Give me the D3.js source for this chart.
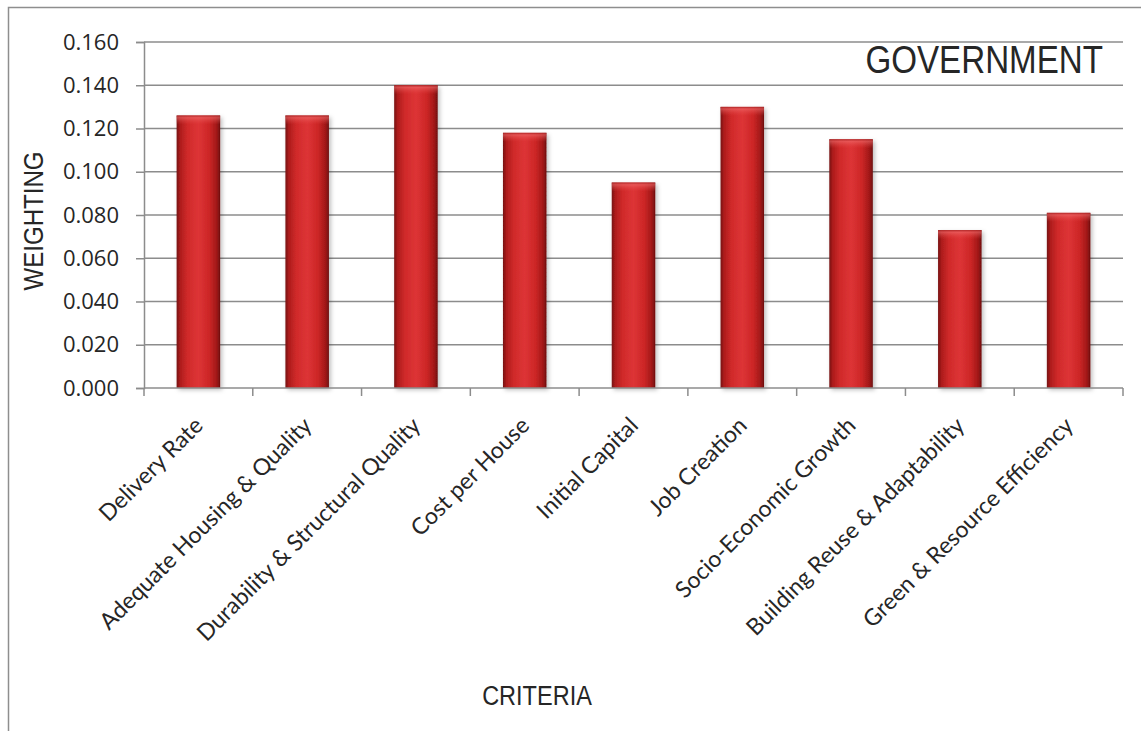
<!DOCTYPE html>
<html>
<head>
<meta charset="utf-8">
<script src="https://cdn.jsdelivr.net/npm/d3@7/dist/d3.min.js"></script>
<style>
  html, body { margin: 0; padding: 0; background: #fff; }
  svg { display: block; }
</style>
</head>
<body>
<svg id="chart" width="1141" height="731"></svg>
<script>
// Criteria weightings for the government stakeholder group
const categories = [
  "Delivery Rate",
  "Adequate Housing & Quality",
  "Durability & Structural Quality",
  "Cost per House",
  "Initial Capital",
  "Job Creation",
  "Socio-Economic Growth",
  "Building Reuse & Adaptability",
  "Green & Resource Efficiency"
];
const weights = [0.126, 0.126, 0.140, 0.118, 0.095, 0.130, 0.115, 0.073, 0.081];
const yTicks = [0, 0.02, 0.04, 0.06, 0.08, 0.10, 0.12, 0.14, 0.16];

const svg = d3.select("#chart");
const margin = { left: 144, right: 1123, top: 42, bottom: 388 };

// outer chart frame
svg.append("rect")
  .attr("x", 8.5).attr("y", 7.5)
  .attr("width", 1300).attr("height", 900)
  .attr("fill", "none").attr("stroke", "#8e8e8e").attr("stroke-width", 1.5);

const x = d3.scaleBand().domain(categories).range([margin.left, margin.right]).paddingInner(0.6).paddingOuter(0.3);
const xEdge = d3.scaleLinear().domain([0, categories.length]).range([margin.left, margin.right]);
const y = d3.scaleLinear().domain([0, 0.16]).range([margin.bottom, margin.top]);

const defs = svg.append("defs");
const barGrad = defs.append("linearGradient").attr("id", "barFill").attr("x1", 0).attr("x2", 1).attr("y1", 0).attr("y2", 0);
[[0, "#761010"], [0.08, "#ad1c1c"], [0.25, "#d02a2a"], [0.5, "#dd3436"], [0.75, "#cc2626"], [0.92, "#a11818"], [1, "#6e0e0e"]]
  .forEach(([o, c]) => barGrad.append("stop").attr("offset", o).attr("stop-color", c));
const bevelGrad = defs.append("linearGradient").attr("id", "barTop").attr("x1", 0).attr("x2", 0).attr("y1", 0).attr("y2", 1);
[[0, "#a81e1e", 0.9], [0.25, "#f27070", 0.55], [1, "#e84848", 0]]
  .forEach(([o, c, a]) => bevelGrad.append("stop").attr("offset", o).attr("stop-color", c).attr("stop-opacity", a));
const shadow = defs.append("filter").attr("id", "barShadow").attr("x", "-30%").attr("y", "-10%").attr("width", "160%").attr("height", "130%");
shadow.append("feDropShadow").attr("dx", 2).attr("dy", 2).attr("stdDeviation", 2).attr("flood-color", "#000").attr("flood-opacity", 0.25);

// horizontal gridlines
svg.append("g").selectAll("line").data(yTicks.slice(1)).join("line")
  .attr("x1", margin.left).attr("x2", margin.right)
  .attr("y1", d => y(d)).attr("y2", d => y(d))
  .attr("stroke", "#8c8c8c").attr("stroke-width", 1.5);

// y axis
const yAxis = svg.append("g").attr("transform", `translate(${margin.left},0)`)
  .call(d3.axisLeft(y).tickValues(yTicks).tickFormat(d3.format(".3f")).tickSizeOuter(0).tickSize(8).tickPadding(17));
yAxis.select(".domain").attr("stroke", "#8c8c8c").attr("stroke-width", 1.5);
yAxis.selectAll(".tick line").attr("stroke", "#8c8c8c").attr("stroke-width", 1.5);
yAxis.selectAll("text").attr("font-family", "'Open Sans', sans-serif").attr("font-size", 22).attr("fill", "#262626");

// bars
const bars = svg.append("g");
bars.selectAll("rect.bar").data(weights).join("rect").attr("class", "bar")
  .attr("x", (d, i) => x(categories[i])).attr("width", x.bandwidth())
  .attr("y", d => y(d)).attr("height", d => y(0) - y(d))
  .attr("fill", "url(#barFill)").attr("filter", "url(#barShadow)");
bars.selectAll("rect.bevel").data(weights).join("rect").attr("class", "bevel")
  .attr("x", (d, i) => x(categories[i])).attr("width", x.bandwidth())
  .attr("y", d => y(d)).attr("height", 9)
  .attr("fill", "url(#barTop)");

// x axis
const xAxisG = svg.append("g");
xAxisG.append("line").attr("x1", margin.left).attr("x2", margin.right)
  .attr("y1", y(0)).attr("y2", y(0)).attr("stroke", "#8c8c8c").attr("stroke-width", 1.5);
xAxisG.selectAll("line.tick").data(d3.range(categories.length + 1)).join("line").attr("class", "tick")
  .attr("x1", d => xEdge(d)).attr("x2", d => xEdge(d))
  .attr("y1", y(0)).attr("y2", y(0) + 8)
  .attr("stroke", "#8c8c8c").attr("stroke-width", 1.5);
xAxisG.selectAll("text").data(categories).join("text")
  .attr("transform", d => `translate(${x(d) + x.bandwidth() / 2 + 6},${y(0) + 39}) rotate(-45)`)
  .attr("text-anchor", "end")
  .attr("font-family", "Lato, sans-serif").attr("font-size", 23).attr("fill", "#262626")
  .text(d => d);

// titles (condensed sans via horizontal scaling)
const titleFont = "'Liberation Sans', Arial, sans-serif";
svg.append("text").attr("transform", "translate(1103,73) scale(0.85,1)").attr("text-anchor", "end")
  .attr("font-family", titleFont).attr("font-size", 39).attr("fill", "#262626").text("GOVERNMENT");
svg.append("text").attr("transform", "translate(537,705) scale(0.84,1)").attr("text-anchor", "middle")
  .attr("font-family", titleFont).attr("font-size", 28).attr("fill", "#262626").text("CRITERIA");
svg.append("text").attr("transform", "translate(43,221) rotate(-90) scale(0.86,1)").attr("text-anchor", "middle")
  .attr("font-family", titleFont).attr("font-size", 28).attr("fill", "#262626").text("WEIGHTING");
</script>
</body>
</html>
